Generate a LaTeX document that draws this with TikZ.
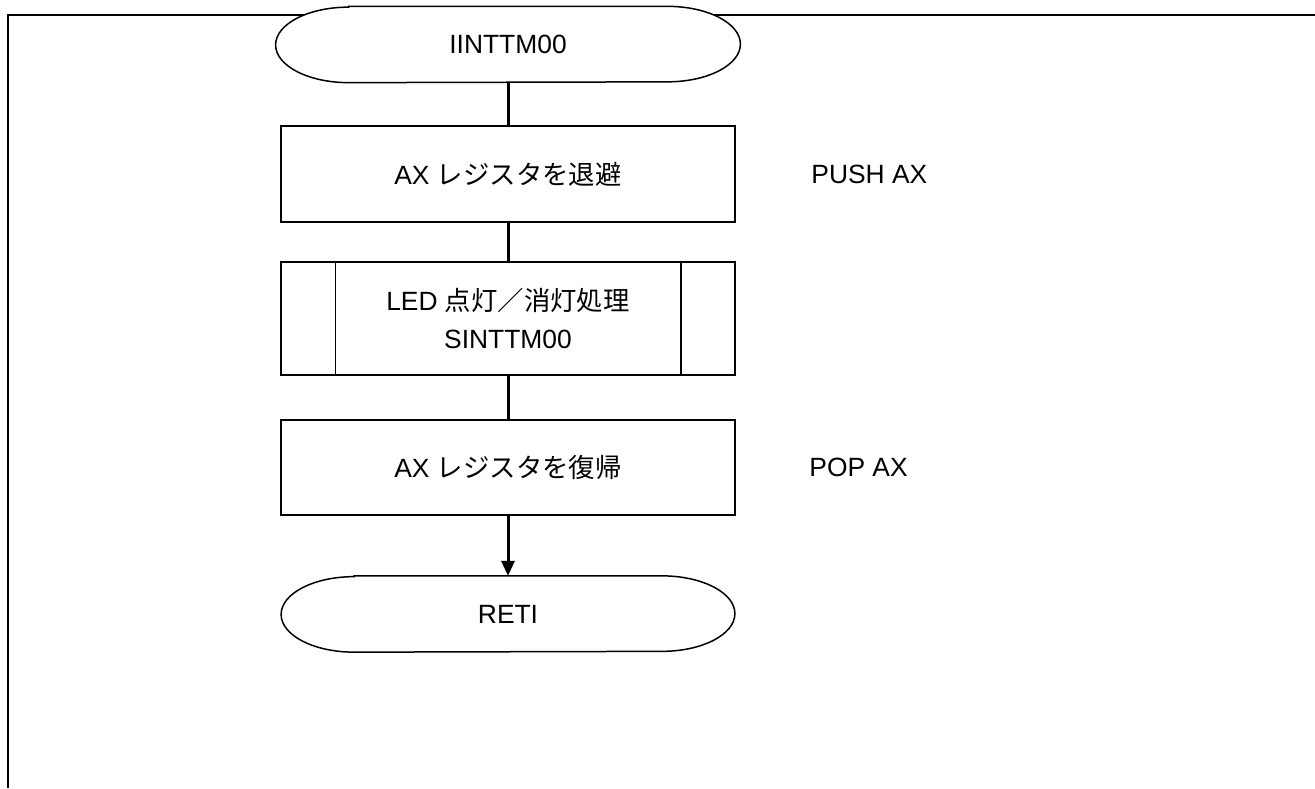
\documentclass[tikz,border=0pt]{standalone}
\usepackage{fontspec}
\setmainfont{Liberation Sans}
\newfontfamily\jpfont{Noto Sans CJK JP}
\usetikzlibrary{arrows.meta,backgrounds}

\tikzset{
  box/.style={draw, line width=0.75pt, minimum width=227pt, minimum height=48pt, inner sep=0pt, align=center},
  terminal/.style={minimum width=228pt, minimum height=37.75pt, inner sep=0pt},
  conn/.style={line width=1.5pt},
  frameline/.style={line width=1pt}
}
\newcommand{\termpath}[1]{%
  \draw[line width=0.75pt, fill=white] ([xshift=36.5pt]#1.north west) -- ([xshift=-36.5pt]#1.north east)
    arc[start angle=90, end angle=-90, x radius=36.5pt, y radius=18.875pt]
    -- ([xshift=36.5pt]#1.south west)
    arc[start angle=270, end angle=90, x radius=36.5pt, y radius=18.875pt] -- cycle;}

\begin{document}
\begin{tikzpicture}[x=0.5pt, y=0.5pt, font=\fontsize{13.2}{18.5}\selectfont]
    \useasboundingbox (0,0) rectangle (1315,788);

    \node[terminal, minimum width=232pt] (start) at (508,743.5) {IINTTM00};
    \node[box] (push) at (508,614) {AX {\jpfont レジスタを退避}};
    \node[box, minimum height=56.5pt] (led) at (508,469.5) {LED {\jpfont 点灯／消灯処理}\\[0.5pt]SINTTM00};
    \node[box, minimum height=47.5pt] (pop) at (508,320.5) {AX {\jpfont レジスタを復帰}};
    \node[terminal, minimum width=226.5pt] (reti) at (508,174) {RETI};

    \node[anchor=west, inner sep=0pt] (pushtxt) at (811,614) {PUSH AX};
    \node[anchor=west, inner sep=0pt] (poptxt) at (809,320.5) {POP AX};

    % side bars of the subroutine box
    \draw[line width=0.75pt] ([xshift=27.5pt]led.north west) -- ([xshift=27.5pt]led.south west);
    \draw[line width=0.75pt] ([xshift=-27.5pt]led.north east) -- ([xshift=-27.5pt]led.south east);

    \draw[conn] (start.south) -- (push.north);
    \draw[conn] (push.south) -- (led.north);
    \draw[conn] (led.south) -- (pop.north);
    \draw[conn, -{Triangle[length=7.5pt, width=6.5pt]}] (pop.south) -- (reti.north);

    \begin{scope}[on background layer]
    \draw[frameline] (1315,773) -- (8,773) -- (8,0);
    \termpath{start}
    \termpath{reti}
    \end{scope}
\end{tikzpicture}
\end{document}
